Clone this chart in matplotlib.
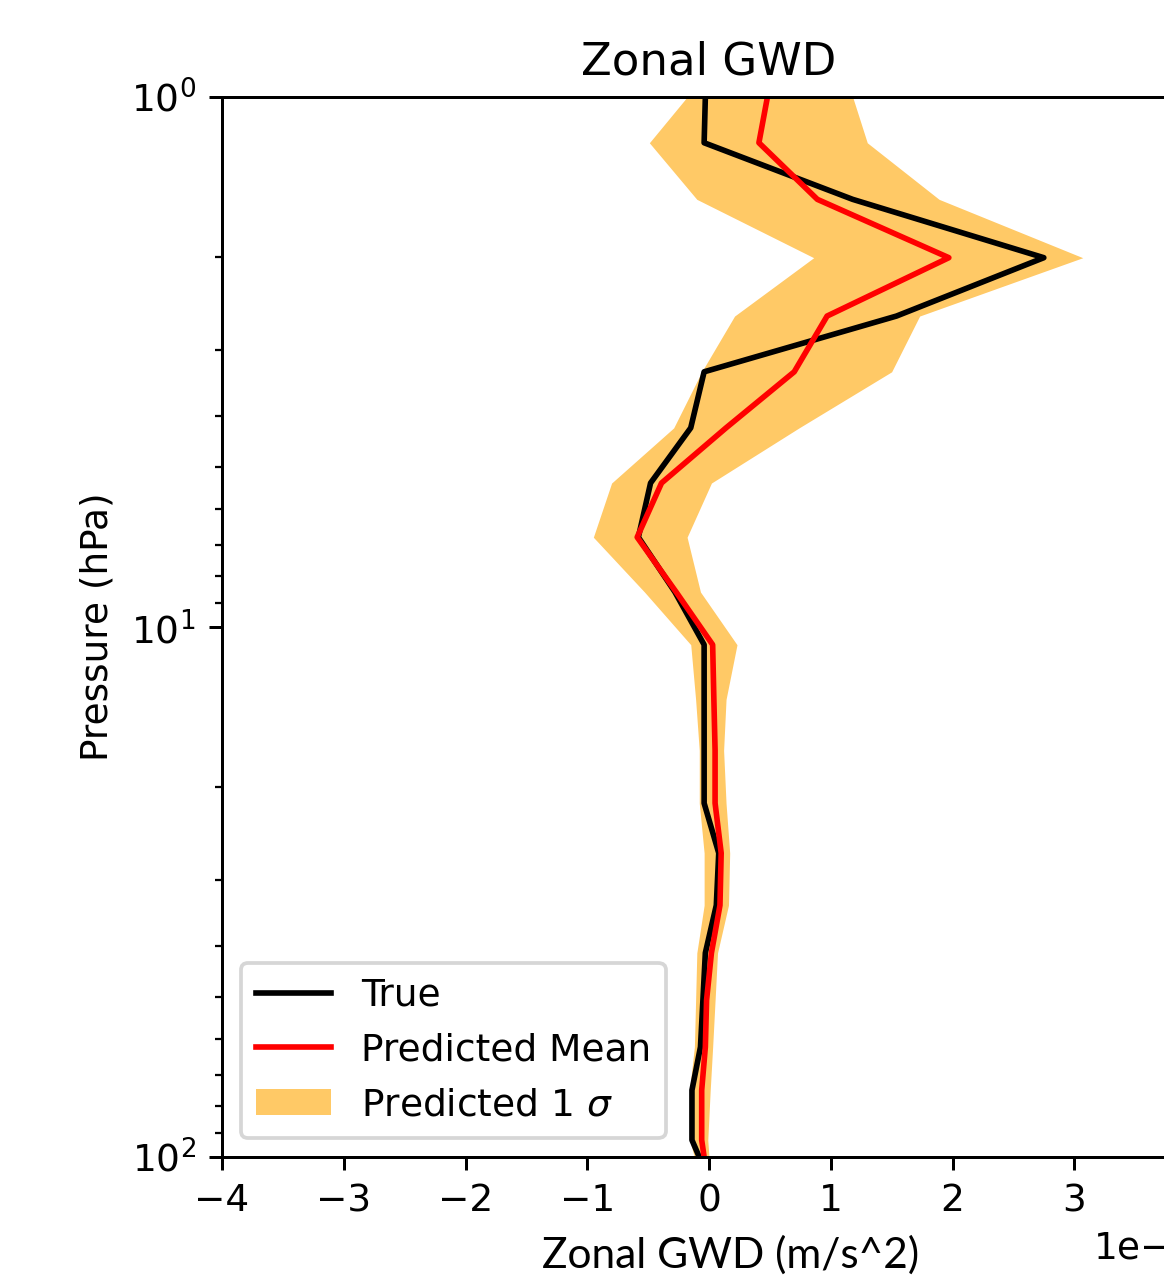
import numpy as np
import matplotlib
matplotlib.use("Agg")
import matplotlib.pyplot as plt

# pressure levels (hPa)
pressure = [1.0, 1.22, 1.56, 2.01, 2.59, 3.30, 4.21, 5.35, 6.77, 8.59, 10.8,
            13.7, 17.1, 21.5, 26.7, 33.5, 41.2, 50.6, 62.0, 74.8, 92.9, 100.0]

# zonal GWD profiles, in units of 1e-5 m/s^2
gwd_true = [-0.03, -0.04, 1.18, 2.75, 1.54, -0.04, -0.15, -0.48, -0.58, -0.28, -0.04,
            -0.04, -0.04, -0.04, 0.08, 0.06, -0.03, -0.05, -0.07, -0.14, -0.14, -0.08]
gwd_mean = [0.48, 0.41, 0.89, 1.97, 0.97, 0.70, 0.14, -0.39, -0.59, -0.27, 0.03,
            0.04, 0.05, 0.05, 0.10, 0.09, 0.02, -0.02, -0.03, -0.06, -0.06, -0.04]
gwd_lower = [-0.18, -0.49, -0.10, 0.86, 0.21, -0.06, -0.29, -0.80, -0.95, -0.53, -0.15,
             -0.11, -0.08, -0.08, -0.04, -0.04, -0.10, -0.11, -0.12, -0.16, -0.16, -0.12]
gwd_upper = [1.18, 1.30, 1.89, 3.07, 1.73, 1.50, 0.74, 0.02, -0.18, -0.07, 0.23,
             0.14, 0.12, 0.14, 0.17, 0.16, 0.07, 0.05, 0.03, 0.01, -0.01, 0.00]
scale = 1e-5

p = np.array(pressure)
fig = plt.figure(figsize=(1164 / 270, 1282 / 270), dpi=270)
# axes run past the right edge of the figure (cropped like the original)
ax = fig.add_axes([222 / 1164, 125 / 1282, 974 / 1164, 1060 / 1282])

ax.plot(np.array(gwd_true) * scale, p, color='k', label='True')
ax.plot(np.array(gwd_mean) * scale, p, color='red', label='Predicted Mean')
ax.fill_betweenx(p, np.array(gwd_lower) * scale, np.array(gwd_upper) * scale,
                 color='orange', alpha=0.6, linewidth=0, label=r'Predicted 1 $\sigma$')

ax.set_yscale('log')
ax.set_ylim(100, 1)
ax.set_xlim(-4e-5, 4e-5)
ax.set_title('Zonal GWD')
ax.set_ylabel('Pressure (hPa)')
ax.set_xlabel('Zonal GWD (m/s^2)', family=['Liberation Sans Narrow', 'Lato'], fontsize=11.3)
ax.xaxis.set_label_coords(0.522, -0.074)
ax.legend(loc='lower left')

fig.savefig('out.png', dpi=270)
